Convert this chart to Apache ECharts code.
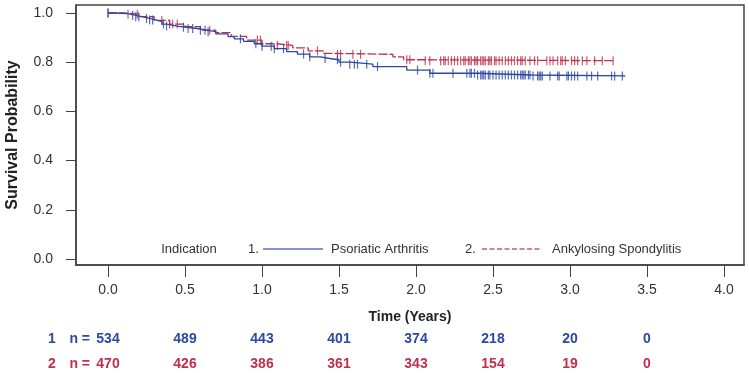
<!DOCTYPE html>
<html>
<head>
<meta charset="utf-8">
<script src="https://cdn.jsdelivr.net/npm/echarts@6/dist/echarts.min.js"></script>
<style>
  html, body { margin: 0; padding: 0; background: #fff; }
  #chart { width: 749px; height: 373px; }
</style>
</head>
<body>
<div id="chart"></div>
<script>
// Kaplan-Meier step curves: time (years) and survival at each drop
const psaTimes = [0, 0.05, 0.12, 0.18, 0.22, 0.27, 0.31, 0.35, 0.38, 0.45, 0.51, 0.58, 0.64, 0.70, 0.78, 0.82, 0.88, 0.95, 1.00, 1.08, 1.16, 1.23, 1.31, 1.38, 1.44, 1.50, 1.57, 1.72, 1.94, 2.09, 2.40, 2.75, 3.36];
const psaSurv  = [1.0, 0.998, 0.99, 0.985, 0.978, 0.972, 0.965, 0.955, 0.947, 0.942, 0.937, 0.93, 0.924, 0.915, 0.904, 0.895, 0.885, 0.875, 0.865, 0.855, 0.843, 0.833, 0.822, 0.815, 0.81, 0.80, 0.792, 0.782, 0.768, 0.755, 0.748, 0.744, 0.744];

const asTimes = [0, 0.10, 0.20, 0.30, 0.40, 0.50, 0.60, 0.70, 0.80, 0.90, 1.00, 1.10, 1.20, 1.30, 1.40, 1.45, 1.85, 1.92, 2.05, 3.28];
const asSurv  = [1.0, 0.995, 0.985, 0.97, 0.955, 0.945, 0.93, 0.92, 0.905, 0.89, 0.875, 0.868, 0.858, 0.846, 0.836, 0.832, 0.822, 0.81, 0.806, 0.806];

// censoring times
const psaCensor = [0.0, 0.16, 0.18, 0.20, 0.25, 0.27, 0.29, 0.36, 0.38, 0.49, 0.52, 0.55, 0.60, 0.63, 0.65, 0.86, 0.96, 1.0, 1.06, 1.08, 1.14, 1.27, 1.31, 1.41, 1.49, 1.51, 1.57, 1.60, 1.62, 1.68, 1.75, 2.01, 2.09, 2.11, 2.24,
  2.33, 2.35, 2.36, 2.38, 2.40, 2.42, 2.43, 2.44, 2.45, 2.47, 2.48, 2.50, 2.52, 2.54, 2.56, 2.58, 2.60, 2.62, 2.64, 2.66, 2.68, 2.69, 2.70, 2.71, 2.73, 2.74, 2.76,
  2.79, 2.80, 2.81, 2.82, 2.87, 2.92, 2.93, 2.98, 2.99, 3.01, 3.03, 3.05, 3.11, 3.14, 3.18, 3.27, 3.29, 3.34];
const asCensor = [0.0, 0.13, 0.19, 0.35, 0.40, 0.42, 0.45, 0.66, 0.97, 0.99, 1.10, 1.16, 1.17, 1.36, 1.49, 1.51, 1.59, 1.64, 1.94, 1.96, 2.06, 2.09,
  2.16, 2.18, 2.19, 2.21, 2.23, 2.25, 2.27, 2.29, 2.31, 2.32, 2.34, 2.35, 2.36, 2.38, 2.39, 2.40, 2.42, 2.43, 2.44, 2.45, 2.47, 2.48, 2.49, 2.51, 2.52, 2.54, 2.56, 2.58, 2.60, 2.62, 2.64, 2.66, 2.68, 2.69, 2.71,
  2.74, 2.77, 2.79, 2.85, 2.87, 2.89, 2.92, 2.94, 2.95, 2.97, 3.01, 3.03, 3.05, 3.08, 3.11, 3.16, 3.21, 3.28];

// number at risk
const riskTimes = [0, 0.5, 1.0, 1.5, 2.0, 2.5, 3.0, 3.5];
const psaRisk = [534, 489, 443, 401, 374, 218, 20, 0];
const asRisk  = [470, 426, 386, 361, 343, 154, 19, 0];

const xTicks = [0, 0.5, 1.0, 1.5, 2.0, 2.5, 3.0, 3.5, 4.0];
const yTicks = [0, 0.2, 0.4, 0.6, 0.8, 1.0];

const BLUE = "#2c48a3";
const RED = "#c0304c";
const FONT = "Liberation Sans";

function survAt(times, surv, t) {
  let s = surv[0];
  for (let i = 0; i < times.length; i++) {
    if (times[i] <= t) s = surv[i];
  }
  return s;
}

const chart = echarts.init(document.getElementById("chart"));

const xBase = {
  type: "value",
  min: -0.2078,
  max: 4.13,
  splitLine: { show: false },
};

function riskAxis(vals, color, margin) {
  return {
    ...xBase,
    position: "bottom",
    axisLine: { show: false, onZero: false },
    axisTick: { show: false },
    axisLabel: {
      customValues: riskTimes,
      margin: margin,
      color: color,
      fontFamily: FONT,
      fontSize: 14,
      fontWeight: "bold",
      formatter: (v) => String(vals[riskTimes.indexOf(v)]),
    },
  };
}

chart.setOption({
  animation: false,
  grid: {
    left: 76,
    right: 5,
    top: 5,
    bottom: 108,
    outerBoundsMode: "none",
    show: true,
    borderColor: "#444",
    borderWidth: 1.5,
  },
  xAxis: [
    {
      ...xBase,
      name: "Time (Years)",
      nameLocation: "middle",
      nameGap: 45,
      nameTextStyle: { fontFamily: FONT, fontSize: 14, fontWeight: "bold", color: "#222" },
      axisLine: { show: true, onZero: false, lineStyle: { color: "#444", width: 1.5 } },
      axisTick: { show: true, customValues: xTicks, length: 12, lineStyle: { color: "#444" } },
      axisLabel: {
        customValues: xTicks,
        margin: 18,
        fontFamily: FONT,
        fontSize: 14,
        color: "#333",
        formatter: (v) => v.toFixed(1),
      },
    },
    riskAxis(psaRisk, BLUE, 67),
    riskAxis(asRisk, RED, 92),
  ],
  yAxis: {
    type: "value",
    min: -0.0244,
    max: 1.0325,
    splitLine: { show: false },
    name: "Survival Probability",
    nameLocation: "middle",
    nameGap: 55,
    nameTextStyle: { fontFamily: FONT, fontSize: 16, fontWeight: "bold", color: "#222" },
    axisLine: { show: true, onZero: false, lineStyle: { color: "#444", width: 1.5 } },
    axisTick: { show: true, customValues: yTicks, length: 10, lineStyle: { color: "#444" } },
    axisLabel: {
      customValues: yTicks,
      margin: 23,
      fontFamily: FONT,
      fontSize: 14,
      color: "#333",
      formatter: (v) => v.toFixed(1),
    },
  },
  graphic: [
    { type: "text", x: 52, y: 339, style: { text: "1", fill: BLUE, font: "bold 14px " + FONT, align: "center", verticalAlign: "middle" } },
    { type: "text", x: 52, y: 364, style: { text: "2", fill: RED, font: "bold 14px " + FONT, align: "center", verticalAlign: "middle" } },
    { type: "text", x: 90, y: 339, style: { text: "n =", fill: BLUE, font: "bold 14px " + FONT, align: "right", verticalAlign: "middle" } },
    { type: "text", x: 90, y: 364, style: { text: "n =", fill: RED, font: "bold 14px " + FONT, align: "right", verticalAlign: "middle" } },
    // legend
    { type: "text", x: 189, y: 249, style: { text: "Indication", fill: "#333", font: "13px " + FONT, align: "center", verticalAlign: "middle" } },
    { type: "text", x: 248, y: 249, style: { text: "1.", fill: "#333", font: "13px " + FONT, verticalAlign: "middle" } },
    { type: "line", shape: { x1: 263, y1: 249, x2: 323, y2: 249 }, style: { stroke: "#5a70c4", lineWidth: 1.5 } },
    { type: "text", x: 331, y: 249, style: { text: "Psoriatic Arthritis", fill: "#333", font: "13px " + FONT, verticalAlign: "middle" } },
    { type: "text", x: 465, y: 249, style: { text: "2.", fill: "#333", font: "13px " + FONT, verticalAlign: "middle" } },
    { type: "line", shape: { x1: 482, y1: 249, x2: 542, y2: 249 }, style: { stroke: "#cc5a74", lineWidth: 1.5, lineDash: [5, 2.5] } },
    { type: "text", x: 552, y: 249, style: { text: "Ankylosing Spondylitis", fill: "#333", font: "13px " + FONT, verticalAlign: "middle" } },
  ],
  series: [
    {
      name: "Ankylosing Spondylitis",
      type: "line",
      step: "end",
      showSymbol: false,
      data: asTimes.map((t, i) => [t, asSurv[i]]),
      lineStyle: { color: RED, width: 1.3, type: [9, 2] },
      z: 2,
    },
    {
      name: "AS censored",
      type: "scatter",
      symbol: "rect",
      symbolSize: [1.2, 9],
      itemStyle: { color: RED },
      data: asCensor.map((t) => [t, survAt(asTimes, asSurv, t)]),
      z: 3,
    },
    {
      name: "Psoriatic Arthritis",
      type: "line",
      step: "end",
      showSymbol: false,
      data: psaTimes.map((t, i) => [t, psaSurv[i]]),
      lineStyle: { color: BLUE, width: 1.3 },
      z: 4,
    },
    {
      name: "PsA censored",
      type: "scatter",
      symbol: "rect",
      symbolSize: [1.2, 9],
      itemStyle: { color: BLUE },
      data: psaCensor.map((t) => [t, survAt(psaTimes, psaSurv, t)]),
      z: 5,
    },
  ],
});
</script>
</body>
</html>
